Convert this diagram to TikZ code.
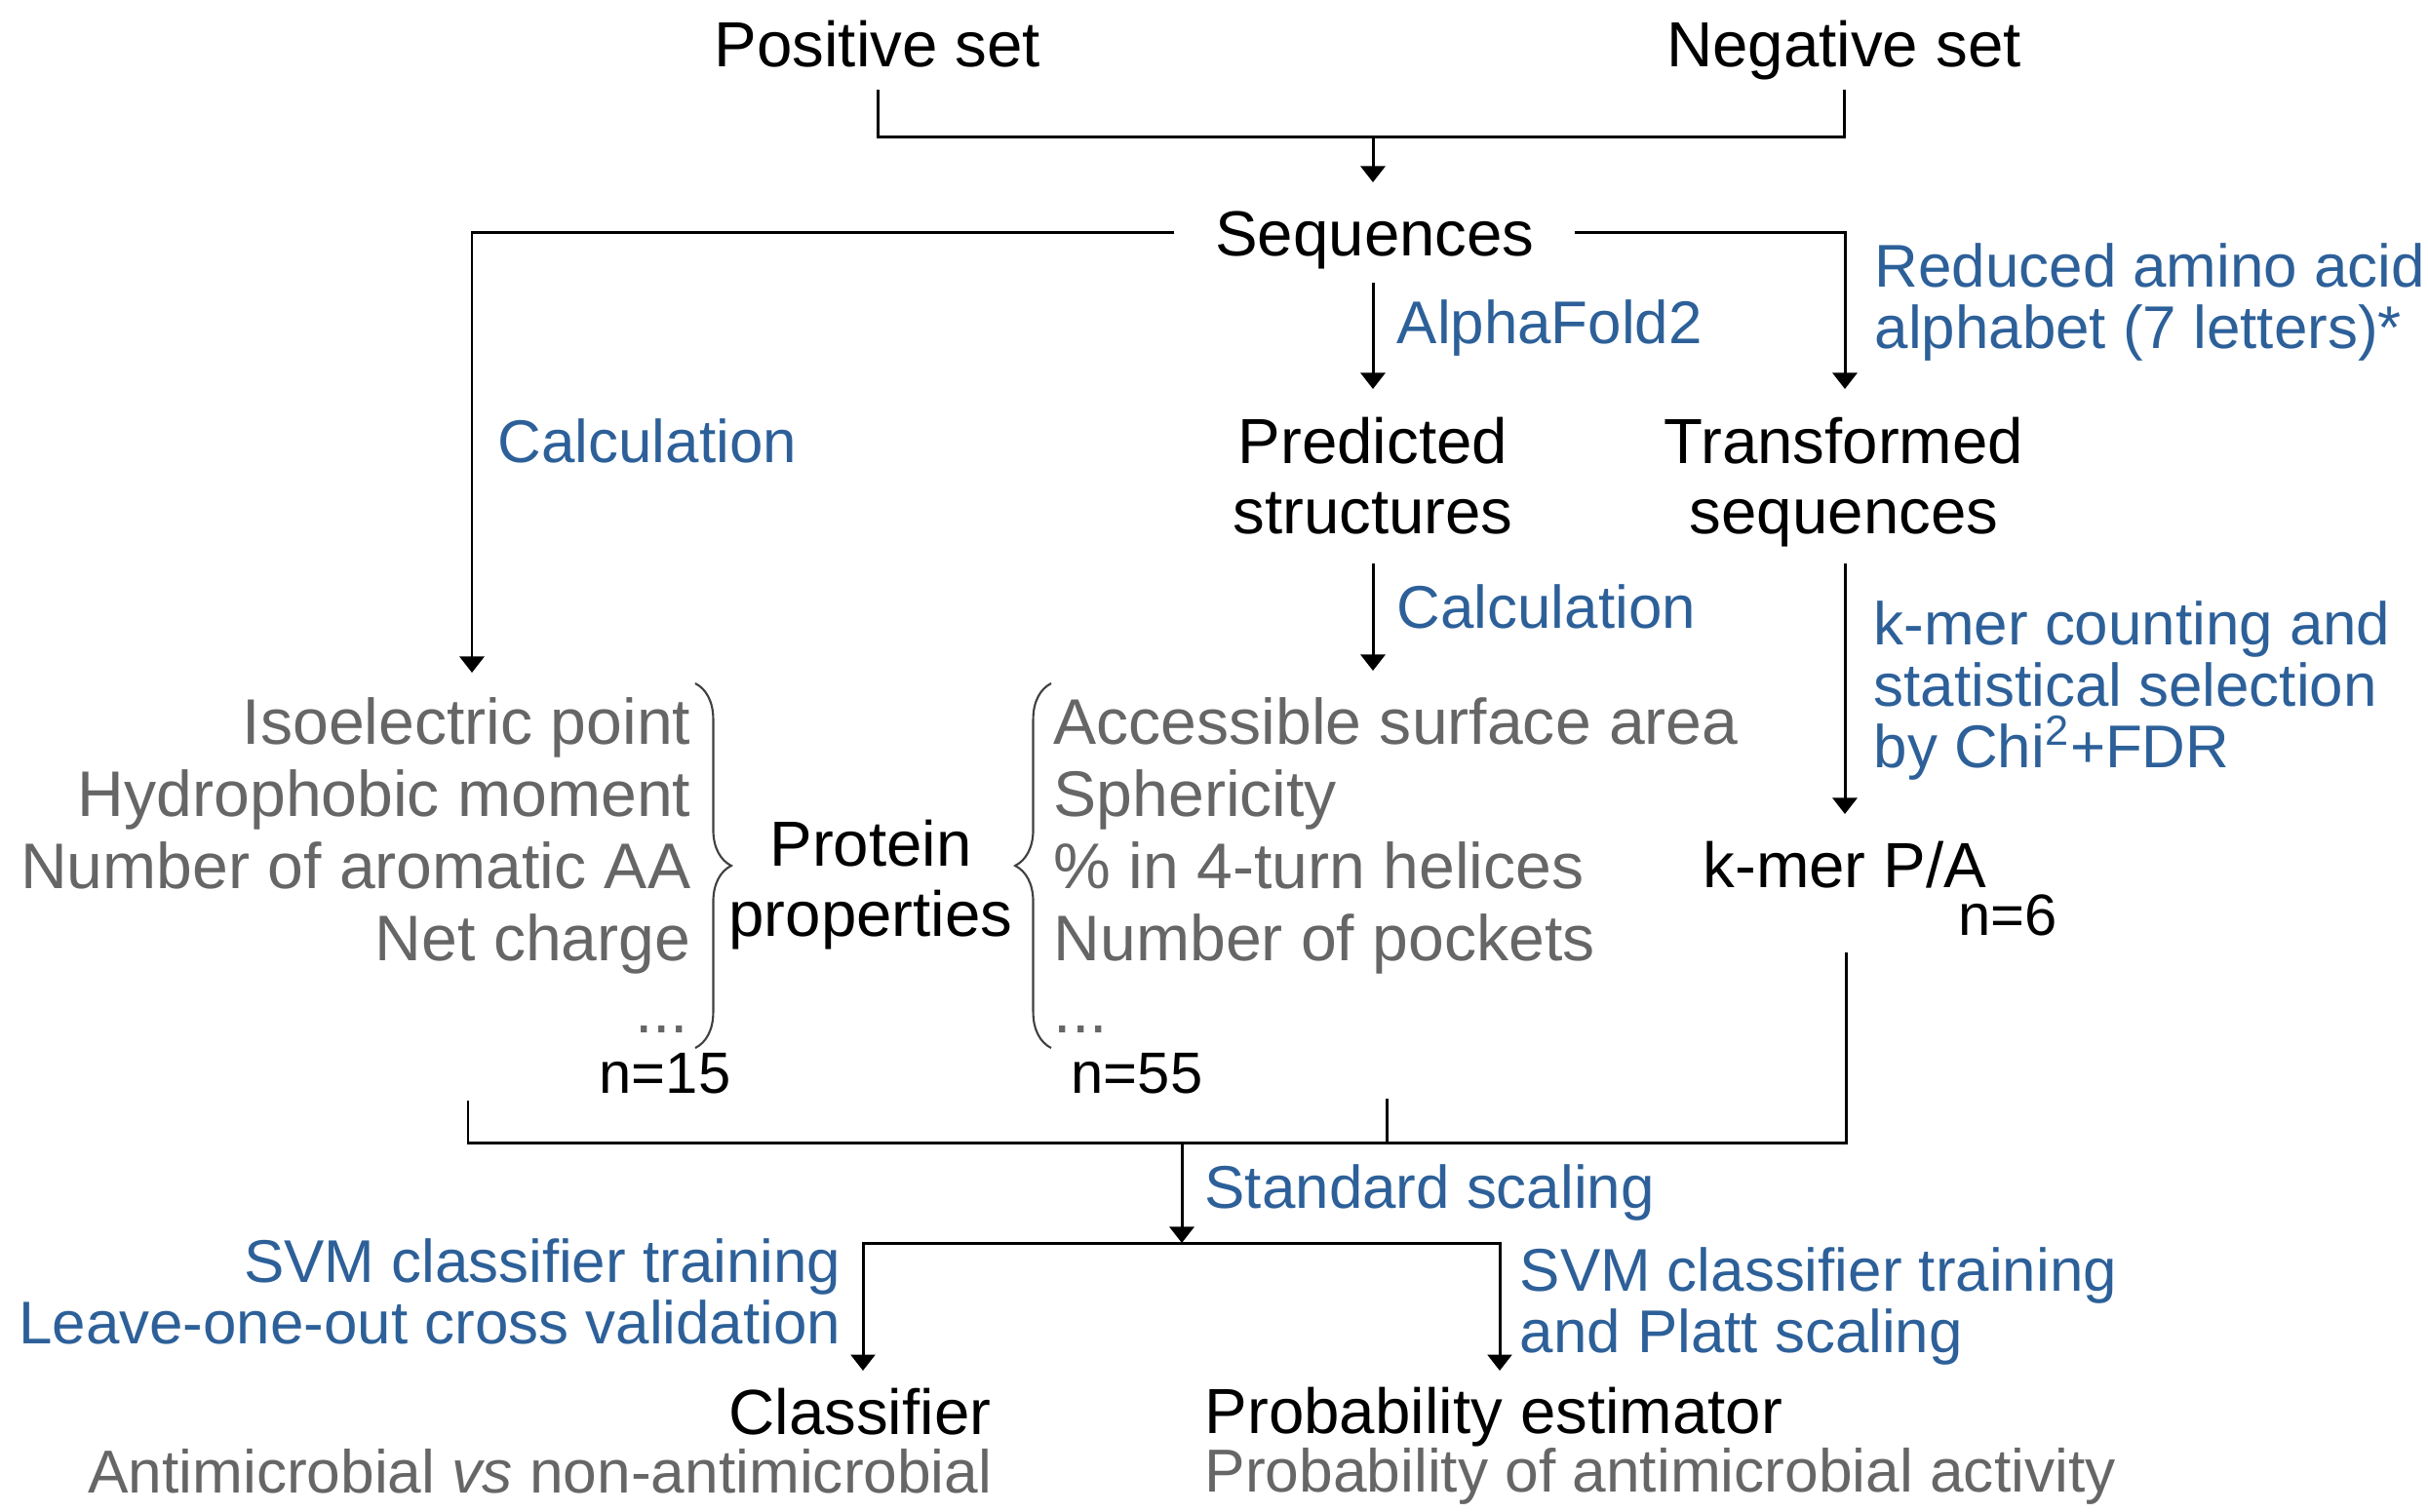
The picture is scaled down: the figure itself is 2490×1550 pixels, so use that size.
\documentclass[tikz,border=0pt]{standalone}
\usepackage{fontspec}
\setmainfont{Liberation Sans}
\usepackage{xcolor}
\usetikzlibrary{arrows.meta, positioning, decorations.pathreplacing}

\begin{document}
\begin{tikzpicture}[x=0.01cm, y=-0.01cm,
  every node/.style={inner sep=0pt},
  txt/.style={font=\fontsize{18.6}{20.3}\selectfont},
  cnt/.style={font=\fontsize{17}{19}\selectfont},
  prop/.style={font=\fontsize{18.8}{21}\selectfont, text=colProp},
  sub/.style={font=\fontsize{17.7}{19}\selectfont, text=colProp},
  how/.style={font=\fontsize{17.6}{17.8}\selectfont, text=colHow},
  link/.style={line width=0.85pt},
  arr/.style={link, -{Triangle[length=4.7pt, width=7.1pt]}},
  brc/.style={draw=colBrace, line width=0.6pt, decorate, decoration={brace, amplitude=10.5pt}}]

% ------------------------
% Colors
% ------------------------
\definecolor{colHow}{RGB}{45,96,153}
\definecolor{colProp}{RGB}{102,102,102}
\definecolor{colBrace}{RGB}{64,64,64}

% spacing of the property lists (px)
\def\dy{74}

\useasboundingbox (0,0) rectangle (2490,1550);

% ------------------------
% Data sets and sequences
% (multi-line nodes sit on their last baseline)
% ------------------------
\node[txt, anchor=base] (pos) at (900,68) {Positive set};
\node[txt, anchor=base] (neg) at (1891,68) {Negative set};
\node[txt, anchor=base] (seq) at (1410,262) {Sequences};

\node[how, anchor=base west] (fold) at (1432,352) {AlphaFold2};
\node[how, anchor=base west, align=left] (red) at (1922,357) {Reduced amino acid\\alphabet (7 letters)*};
\node[how, anchor=base west] (calcA) at (510,474) {Calculation};

\node[txt, anchor=base, align=center] (pred) at (1408,547) {Predicted\\structures};
\node[txt, anchor=base, align=center] (trans) at (1891,547) {Transformed\\sequences};

\node[how, anchor=base west] (calcB) at (1432,644) {Calculation};
\node[how, anchor=base west, align=left] (kcnt) at (1921,787) {k-mer counting and\\statistical selection\\by Chi\textsuperscript{2}+FDR};

% ------------------------
% Features
% ------------------------
\foreach \t [count=\i from 0] in {Isoelectric point, Hydrophobic moment, Number of aromatic AA, Net charge}
  \node[prop, anchor=base east] (pa\i) at (709, 763+\i*\dy) {\t};
\node[prop, anchor=base east] (pa4) at (707, 763+4*\dy) {...};

\foreach \t [count=\i from 0] in {Accessible surface area, Sphericity, \% in 4-turn helices, Number of pockets}
  \node[prop, anchor=base west] (pb\i) at (1080, 763+\i*\dy) {\t};
\node[prop, anchor=base west] (pb4) at (1080, 763+4*\dy) {...};

\draw[brc] (713,701) -- (713,1075);
\draw[brc] (1078,1075) -- (1078,701);

\node[txt, anchor=base, align=center] (prot) at (893,960) {Protein\\properties};

\node[cnt, anchor=base west] (n15) at (614,1121) {n=15};
\node[cnt, anchor=base west] (n55) at (1098,1121) {n=55};

\node[txt, anchor=base] (kmer) at (1892,910) {k-mer P/A};
\node[cnt, anchor=base west] (n6) at (2008,959) {n=6};

% ------------------------
% Training
% ------------------------
\node[how, anchor=base west] (std) at (1235,1239) {Standard scaling};
\node[how, anchor=base east, align=right] (svmA) at (863,1378) {SVM classifier training\\Leave-one-out cross validation};
\node[how, anchor=base west, align=left] (svmB) at (1558,1387) {SVM classifier training\\and Platt scaling};

\node[txt, anchor=base east] (clf) at (1017,1471) {Classifier};
\node[sub, anchor=base east] (clfTxt) at (1018,1531) {Antimicrobial \textit{vs} non-antimicrobial};
\node[txt, anchor=base west] (prob) at (1235,1470) {Probability estimator};
\node[sub, anchor=base west] (probTxt) at (1235,1530) {Probability of antimicrobial activity};

% ------------------------
% Connectors
% ------------------------
\coordinate (posEnd) at (900,92);
\coordinate (negEnd) at (1891,92);
\coordinate (setJoin) at (1408,140);
\coordinate (seqIn) at (1408,187);
\coordinate (seqL) at (1204,238);
\coordinate (seqR) at (1615,238);
\coordinate (seqOut) at (1408,290);
\coordinate (predIn) at (1408,399);
\coordinate (transIn) at (1892,399);
\coordinate (propInA) at (484,690);
\coordinate (predOut) at (1408,578);
\coordinate (propInB) at (1408,688);
\coordinate (transOut) at (1892,578);
\coordinate (kmerIn) at (1892,835);
\coordinate (kmerOut) at (1893,977);
\coordinate (propOutA) at (480,1129);
\coordinate (propOutB) at (1422,1127);
\coordinate (mergeJoin) at (1212,1172);
\coordinate (splitJoin) at (1212,1275);
\coordinate (clfIn) at (885,1406);
\coordinate (probIn) at (1538,1406);

\draw[link] (posEnd) |- (setJoin) -| (negEnd);
\draw[arr] (setJoin) -- (seqIn);
\draw[arr] (seqL) -| (propInA);
\draw[arr] (seqR) -| (transIn);
\draw[arr] (seqOut) -- (predIn);
\draw[arr] (predOut) -- (propInB);
\draw[arr] (transOut) -- (kmerIn);

\draw[link] (propOutA) |- (mergeJoin) -| (kmerOut);
\draw[link] (propOutB) -- (propOutB |- mergeJoin);
\draw[arr] (mergeJoin) -- (splitJoin);
\draw[arr] (splitJoin) -| (clfIn);
\draw[arr] (splitJoin) -| (probIn);

\end{tikzpicture}
\end{document}
